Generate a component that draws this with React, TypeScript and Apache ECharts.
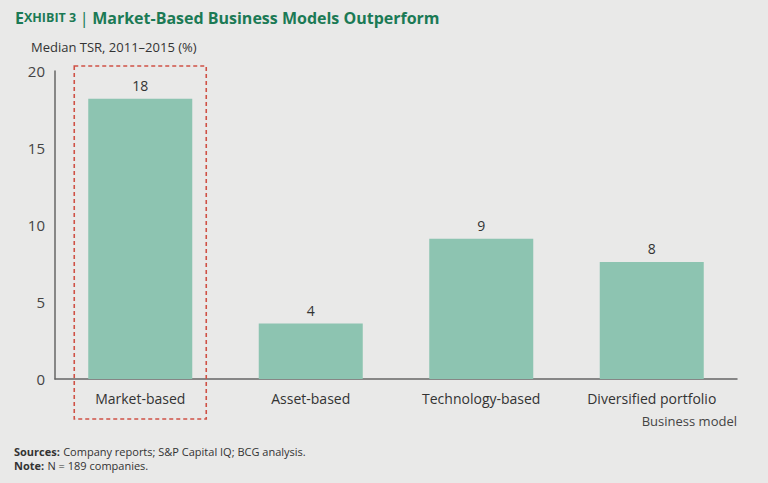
import React, { useEffect, useRef } from "react";
import * as echarts from "echarts";

const categories = ["Market-based", "Asset-based", "Technology-based", "Diversified portfolio"];
const tsrValues = [18.2, 3.6, 9.1, 7.6];
const yTicks = [0, 5, 10, 15, 20];

const FONT = "'Open Sans', 'Noto Sans', sans-serif";

export default function App() {
  const ref = useRef<HTMLDivElement>(null);
  useEffect(() => {
    const chart = echarts.init(ref.current!, null, { renderer: "svg" });
    const option: any = {
      animation: false,
      backgroundColor: "#e9e9e8",
      textStyle: { fontFamily: FONT },
      grid: { left: 55, right: 31, top: 71, bottom: 104 },
      xAxis: {
        type: "category",
        data: categories,
        axisLine: { show: true, lineStyle: { color: "#666", width: 1.5 } },
        axisTick: { show: false },
        axisLabel: { color: "#333", fontSize: 14, margin: 12, fontFamily: FONT },
      },
      yAxis: {
        type: "value",
        min: yTicks[0],
        max: yTicks[yTicks.length - 1],
        interval: 5,
        axisLine: { show: true, lineStyle: { color: "#666", width: 1.5 } },
        axisTick: { show: false },
        splitLine: { show: false },
        axisLabel: { color: "#444", fontSize: 15, margin: 10, fontFamily: FONT },
      },
      series: [
        {
          type: "bar",
          data: tsrValues,
          barWidth: "61%",
          itemStyle: { color: "#8dc4b1" },
          label: {
            show: true,
            position: "top",
            distance: 6,
            color: "#333",
            fontSize: 14,
            fontFamily: FONT,
            formatter: (p: any) => String(Math.round(p.value)),
          },
        },
      ],
      graphic: [
        {
          id: "title",
          type: "text",
          left: 15,
          top: 9,
          style: {
            text: "{b|E}{s|XHIBIT 3} {bar||} {b|Market-Based Business Models Outperform}",
            rich: {
              b: { fontSize: 16, fontWeight: "bold", fill: "#1b7a55", fontFamily: FONT },
              s: { fontSize: 12.5, fontWeight: "bold", fill: "#1b7a55", fontFamily: FONT },
              bar: { fontSize: 17, fill: "#1b7a55", fontFamily: FONT },
            },
          },
        },
        {
          id: "yname",
          type: "text",
          left: 31,
          top: 40,
          style: { text: "Median TSR, 2011–2015 (%)", fontSize: 13, fill: "#333", fontFamily: FONT },
        },
        {
          id: "xname",
          type: "text",
          right: 31,
          top: 414,
          style: { text: "Business model", fontSize: 13, fill: "#444", fontFamily: FONT },
        },
        {
          id: "notes",
          type: "text",
          left: 14,
          top: 445,
          style: {
            text: "{b|Sources:} {n|Company reports; S&P Capital IQ; BCG analysis.}\n{b|Note:} {n|N = 189 companies.}",
            rich: {
              b: { fontSize: 11, fontWeight: "bold", fill: "#333", fontFamily: FONT, lineHeight: 14 },
              n: { fontSize: 11, fill: "#333", fontFamily: FONT, lineHeight: 14 },
            },
          },
        },
      ],
    };
    chart.setOption(option);
    // dashed highlight around the first category
    const center = chart.convertToPixel({ xAxisIndex: 0 }, categories[0]) as number;
    const top = chart.convertToPixel({ yAxisIndex: 0 }, yTicks[yTicks.length - 1]) as number;
    const zero = chart.convertToPixel({ yAxisIndex: 0 }, 0) as number;
    chart.setOption({
      graphic: [
        {
          id: "highlight",
          type: "rect",
          shape: { x: center - 66, y: top - 5, width: 132, height: zero - top + 45 },
          style: { fill: "none", stroke: "#cf5145", lineWidth: 1.6, lineDash: [4, 3] },
          z: 10,
        },
      ],
    });
    return () => chart.dispose();
  }, []);
  return <div ref={ref} style={{ width: 768, height: 483, position: "absolute", left: 0, top: 0 }} />;
}
